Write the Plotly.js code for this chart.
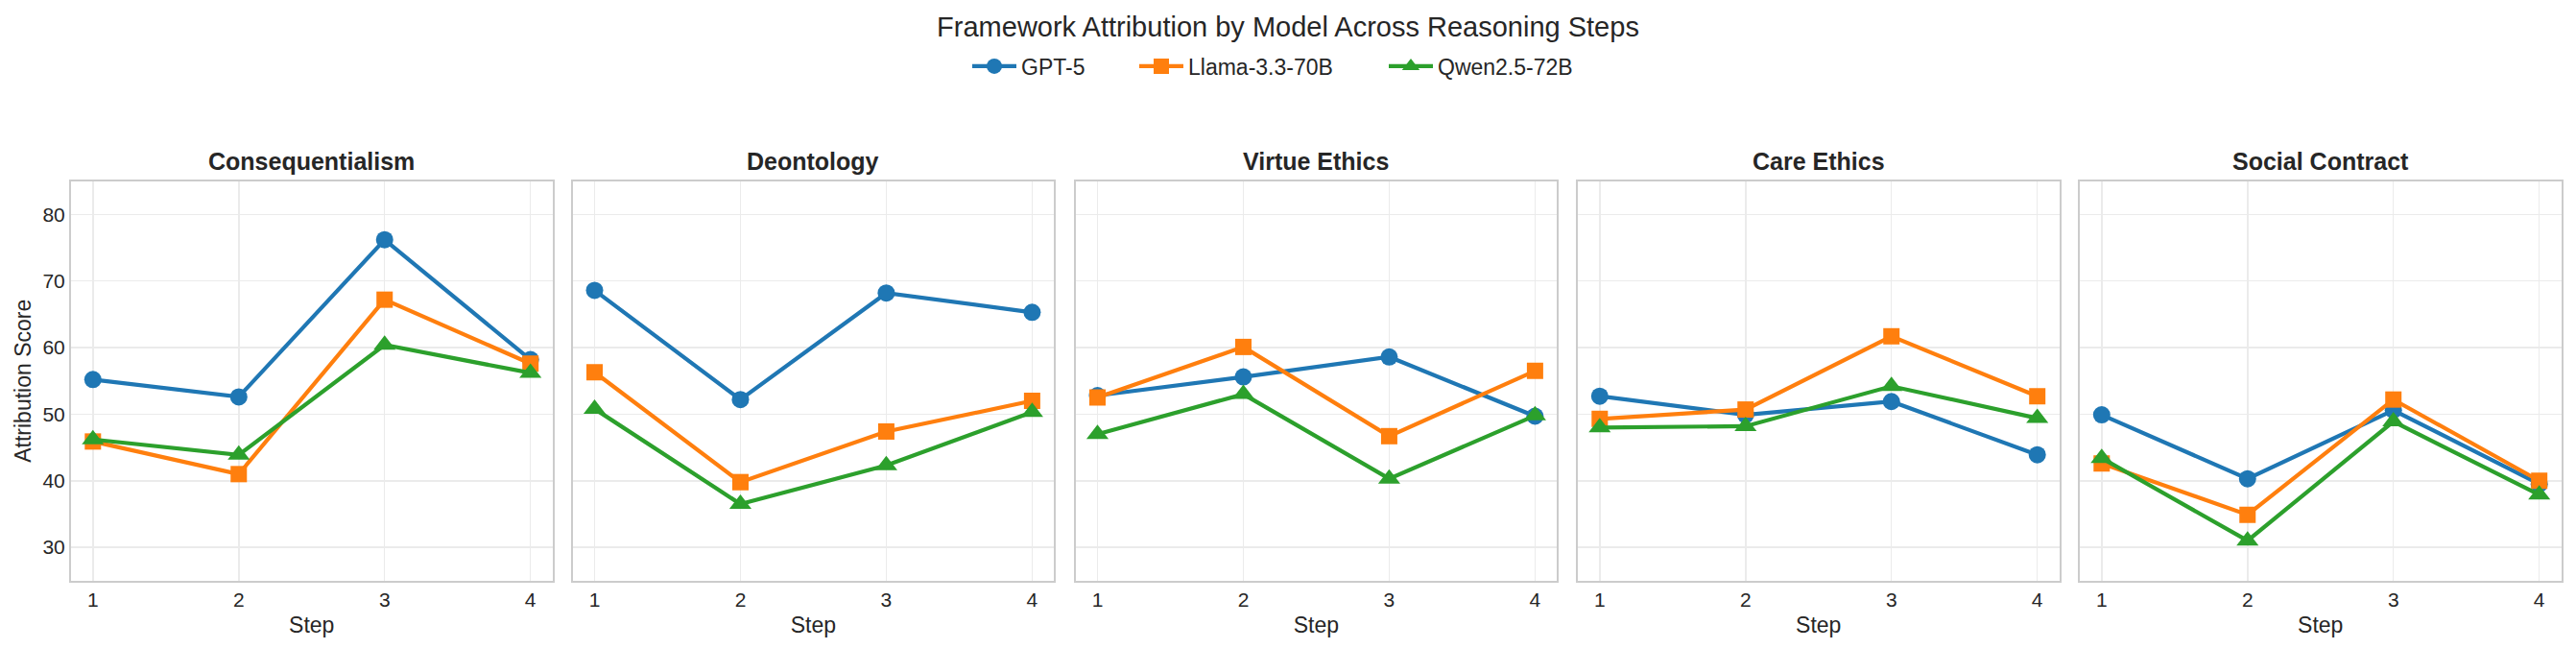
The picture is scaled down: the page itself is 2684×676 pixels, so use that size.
<!DOCTYPE html>
<html><head><meta charset="utf-8">
<script src="https://cdn.plot.ly/plotly-3.0.1.min.js"></script>
<style>html,body{margin:0;padding:0;background:#fff}</style>
</head><body><div id="chart" style="width:2684px;height:676px"></div>
<script>
const steps = [1, 2, 3, 4];
const frameworks = ['Consequentialism', 'Deontology', 'Virtue Ethics', 'Care Ethics', 'Social Contract'];
const models = ['GPT-5', 'Llama-3.3-70B', 'Qwen2.5-72B'];
const gpt5Scores = [[55.2, 52.6, 76.2, 58.2], [68.6, 52.2, 68.2, 65.3], [52.8, 55.6, 58.6, 49.7], [52.7, 49.9, 51.9, 43.9], [49.9, 40.3, 50.6, 39.5]];
const llamaScores = [[45.9, 41.0, 67.2, 57.6], [56.3, 39.8, 47.4, 52.0], [52.5, 60.1, 46.7, 56.5], [49.3, 50.7, 61.7, 52.7], [42.6, 34.9, 52.2, 40.0]];
const qwenScores = [[46.2, 43.9, 60.4, 56.2], [50.8, 36.5, 42.3, 50.3], [47.0, 53.0, 40.3, 49.8], [48.0, 48.2, 54.2, 49.4], [43.4, 31.0, 48.9, 37.9]];
const yTickVals = [30, 40, 50, 60, 70, 80];

const W = 2684, H = 676;
const colors = ['#1f77b4', '#ff7f0e', '#2ca02c'];
const symbols = ['circle', 'square', 'triangle-up'];
const markerSizes = [18, 17, 20];
const seriesData = [gpt5Scores, llamaScores, qwenScores];
const FONT = 'Liberation Sans, Arial, sans-serif';
const TXT = '#262626';

const panelLeft = [74, 596.7, 1120.7, 1644, 2167];
const panelWidth = 501.5;
const panelTop = 188.7, panelBottom = 604.8;
const legendIds = ['legend', 'legend2', 'legend3'];
const legendLeft = [1008, 1182, 1442];

const traces = [];
const layout = {
  width: W, height: H,
  margin: {l: 0, r: 0, t: 0, b: 0},
  paper_bgcolor: '#fff', plot_bgcolor: '#fff',
  font: {family: FONT, color: TXT},
  title: {text: 'Framework Attribution by Model Across Reasoning Steps', x: 0.5, xanchor: 'center',
          yref: 'container', y: 1 - 28 / H, yanchor: 'middle', font: {size: 29, color: TXT, family: FONT}},
  showlegend: true,
  annotations: []
};
legendIds.forEach((id, i) => {
  layout[id] = {orientation: 'h', x: legendLeft[i] / W, xanchor: 'left', y: 1 - 69 / H, yanchor: 'middle',
                font: {size: 23, color: TXT, family: FONT}, bgcolor: 'rgba(0,0,0,0)', itemwidth: 46};
});

frameworks.forEach((fw, p) => {
  const ax = p === 0 ? '' : String(p + 1);
  models.forEach((m, s) => {
    traces.push({
      x: steps, y: seriesData[s][p], type: 'scatter', mode: 'lines+markers', name: m,
      legendgroup: m, showlegend: p === 0, legend: legendIds[s],
      xaxis: 'x' + ax, yaxis: 'y' + ax,
      line: {color: colors[s], width: 4.2},
      marker: {color: colors[s], symbol: symbols[s], size: markerSizes[s]}
    });
  });
  const x0 = panelLeft[p] / W, x1 = (panelLeft[p] + panelWidth) / W;
  layout['xaxis' + ax] = {
    domain: [x0, x1], anchor: 'y' + ax, range: [0.85, 4.15],
    tickvals: steps, ticktext: steps.map(String),
    showgrid: true, gridcolor: '#ebebeb', gridwidth: 1.5, zeroline: false,
    showline: true, mirror: true, linecolor: '#cccccc', linewidth: 2,
    ticks: '', tickfont: {size: 21, color: TXT, family: FONT},
    title: {text: 'Step', font: {size: 23, color: TXT, family: FONT}, standoff: 8}
  };
  layout['yaxis' + ax] = {
    domain: [1 - panelBottom / H, 1 - panelTop / H], anchor: 'x' + ax, range: [25, 85],
    tickvals: yTickVals, showticklabels: p === 0,
    showgrid: true, gridcolor: '#ebebeb', gridwidth: 1.5, zeroline: false,
    showline: true, mirror: true, linecolor: '#cccccc', linewidth: 2,
    ticks: '', tickfont: {size: 21, color: TXT, family: FONT},
    title: p === 0 ? {text: 'Attribution Score', font: {size: 23, color: TXT, family: FONT}, standoff: 5} : {text: ''}
  };
  layout.annotations.push({
    text: '<b>' + fw + '</b>', xref: 'paper', yref: 'paper',
    x: (x0 + x1) / 2, xanchor: 'center', y: 1 - 168 / H, yanchor: 'middle',
    showarrow: false, font: {size: 25, color: TXT, family: FONT}
  });
});

Plotly.newPlot('chart', traces, layout, {displayModeBar: false, staticPlot: true});
</script>
</body></html>
